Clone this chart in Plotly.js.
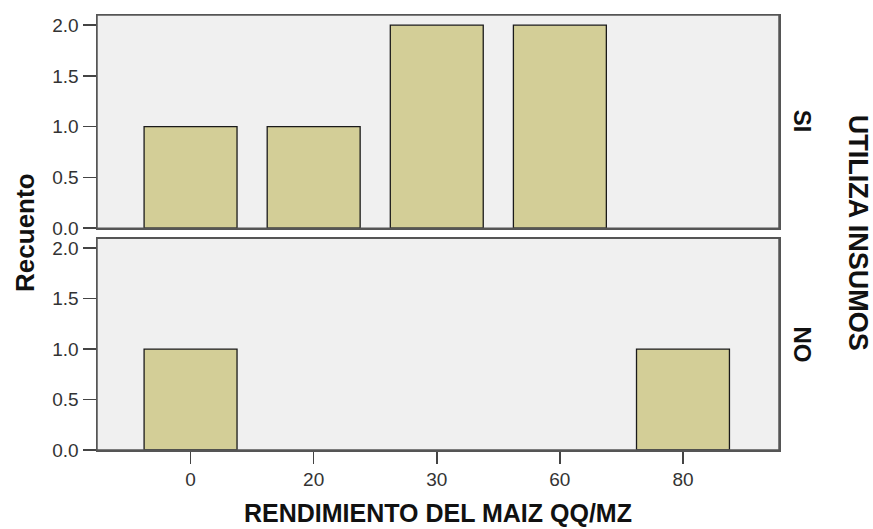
<!DOCTYPE html>
<html>
<head>
<meta charset="utf-8">
<script src="https://cdn.plot.ly/plotly-3.0.1.min.js"></script>
<style>html,body{margin:0;padding:0;background:#fff;}#chart{width:873px;height:529px;}</style>
</head>
<body>
<div id="chart"></div>
<script>
var categories = ["0", "20", "30", "60", "80"];
var countsSI = [1, 1, 2, 2, 0];
var countsNO = [1, 0, 0, 0, 1];
var yTicks = [0, 0.5, 1.0, 1.5, 2.0];
var panelLabels = ["SI", "NO"];

function barMarker(vals) {
  return {color: "#d3ce97", line: {color: "#1a1a1a", width: vals.map(function (v) { return v > 0 ? 1.3 : 0; })}};
}

var traces = [
  {type: "bar", x: categories, y: countsSI, xaxis: "x2", yaxis: "y2", width: 0.755, marker: barMarker(countsSI), hoverinfo: "x+y"},
  {type: "bar", x: categories, y: countsNO, xaxis: "x", yaxis: "y", width: 0.755, marker: barMarker(countsNO), hoverinfo: "x+y"}
];

var FONT = "Liberation Sans, Arial, sans-serif";
var yCommon = {
  range: [0, 2.1], tickvals: yTicks, tickformat: ".1f",
  ticks: "outside", ticklen: 13, tickwidth: 1.5, tickcolor: "#444",
  showgrid: false, zeroline: false, showline: true, mirror: true,
  linecolor: "#555", linewidth: 1.5,
  tickfont: {family: FONT, size: 19, color: "#333"}
};
var xCommon = {
  type: "category", categoryorder: "array", categoryarray: categories,
  range: [-0.76, 4.78], showgrid: false, zeroline: false,
  showline: true, mirror: true, linecolor: "#555", linewidth: 1.5
};

var layout = {
  width: 873, height: 529,
  margin: {l: 97, r: 94, t: 15, b: 79},
  paper_bgcolor: "#ffffff",
  plot_bgcolor: "#f0f0f0",
  showlegend: false,
  bargap: 0,
  yaxis: Object.assign({}, yCommon, {domain: [0, 0.487], anchor: "x"}),
  yaxis2: Object.assign({}, yCommon, {domain: [0.510, 1], anchor: "x2"}),
  xaxis: Object.assign({}, xCommon, {
    anchor: "y", ticks: "outside", ticklen: 12, tickwidth: 1.5, tickcolor: "#444",
    tickfont: {family: FONT, size: 19, color: "#333"}
  }),
  xaxis2: Object.assign({}, xCommon, {anchor: "y2", showticklabels: false, ticks: ""}),
  shapes: [
    {type: "rect", xref: "paper", yref: "paper", x0: 0, x1: 1, y0: 0.510, y1: 1, line: {color: "#555", width: 1.5}, fillcolor: "rgba(0,0,0,0)", layer: "above"},
    {type: "rect", xref: "paper", yref: "paper", x0: 0, x1: 1, y0: 0, y1: 0.487, line: {color: "#555", width: 1.5}, fillcolor: "rgba(0,0,0,0)", layer: "above"}
  ],
  annotations: [
    {text: "<b>RENDIMIENTO DEL MAIZ QQ/MZ</b>", xref: "paper", yref: "paper", x: 0.5, y: -0.1805, showarrow: false,
      font: {family: FONT, size: 25, color: "#111"}, xanchor: "center", yanchor: "bottom"},
    {text: "<b>Recuento</b>", xref: "paper", yref: "paper", x: -0.1056, y: 0.499, showarrow: false, textangle: -90,
      font: {family: FONT, size: 26, color: "#111"}, xanchor: "center", yanchor: "middle"},
    {text: "<b>" + panelLabels[0] + "</b>", xref: "paper", yref: "paper", x: 1.035, y: 0.755, showarrow: false, textangle: 90,
      font: {family: FONT, size: 24, color: "#111"}, xanchor: "center", yanchor: "middle"},
    {text: "<b>" + panelLabels[1] + "</b>", xref: "paper", yref: "paper", x: 1.035, y: 0.243, showarrow: false, textangle: 90,
      font: {family: FONT, size: 24, color: "#111"}, xanchor: "center", yanchor: "middle"},
    {text: "<b>UTILIZA INSUMOS</b>", xref: "paper", yref: "paper", x: 1.116, y: 0.499, showarrow: false, textangle: 90,
      font: {family: FONT, size: 27, color: "#111"}, xanchor: "center", yanchor: "middle"}
  ]
};

Plotly.newPlot("chart", traces, layout, {displayModeBar: false, staticPlot: true});
</script>
</body>
</html>
